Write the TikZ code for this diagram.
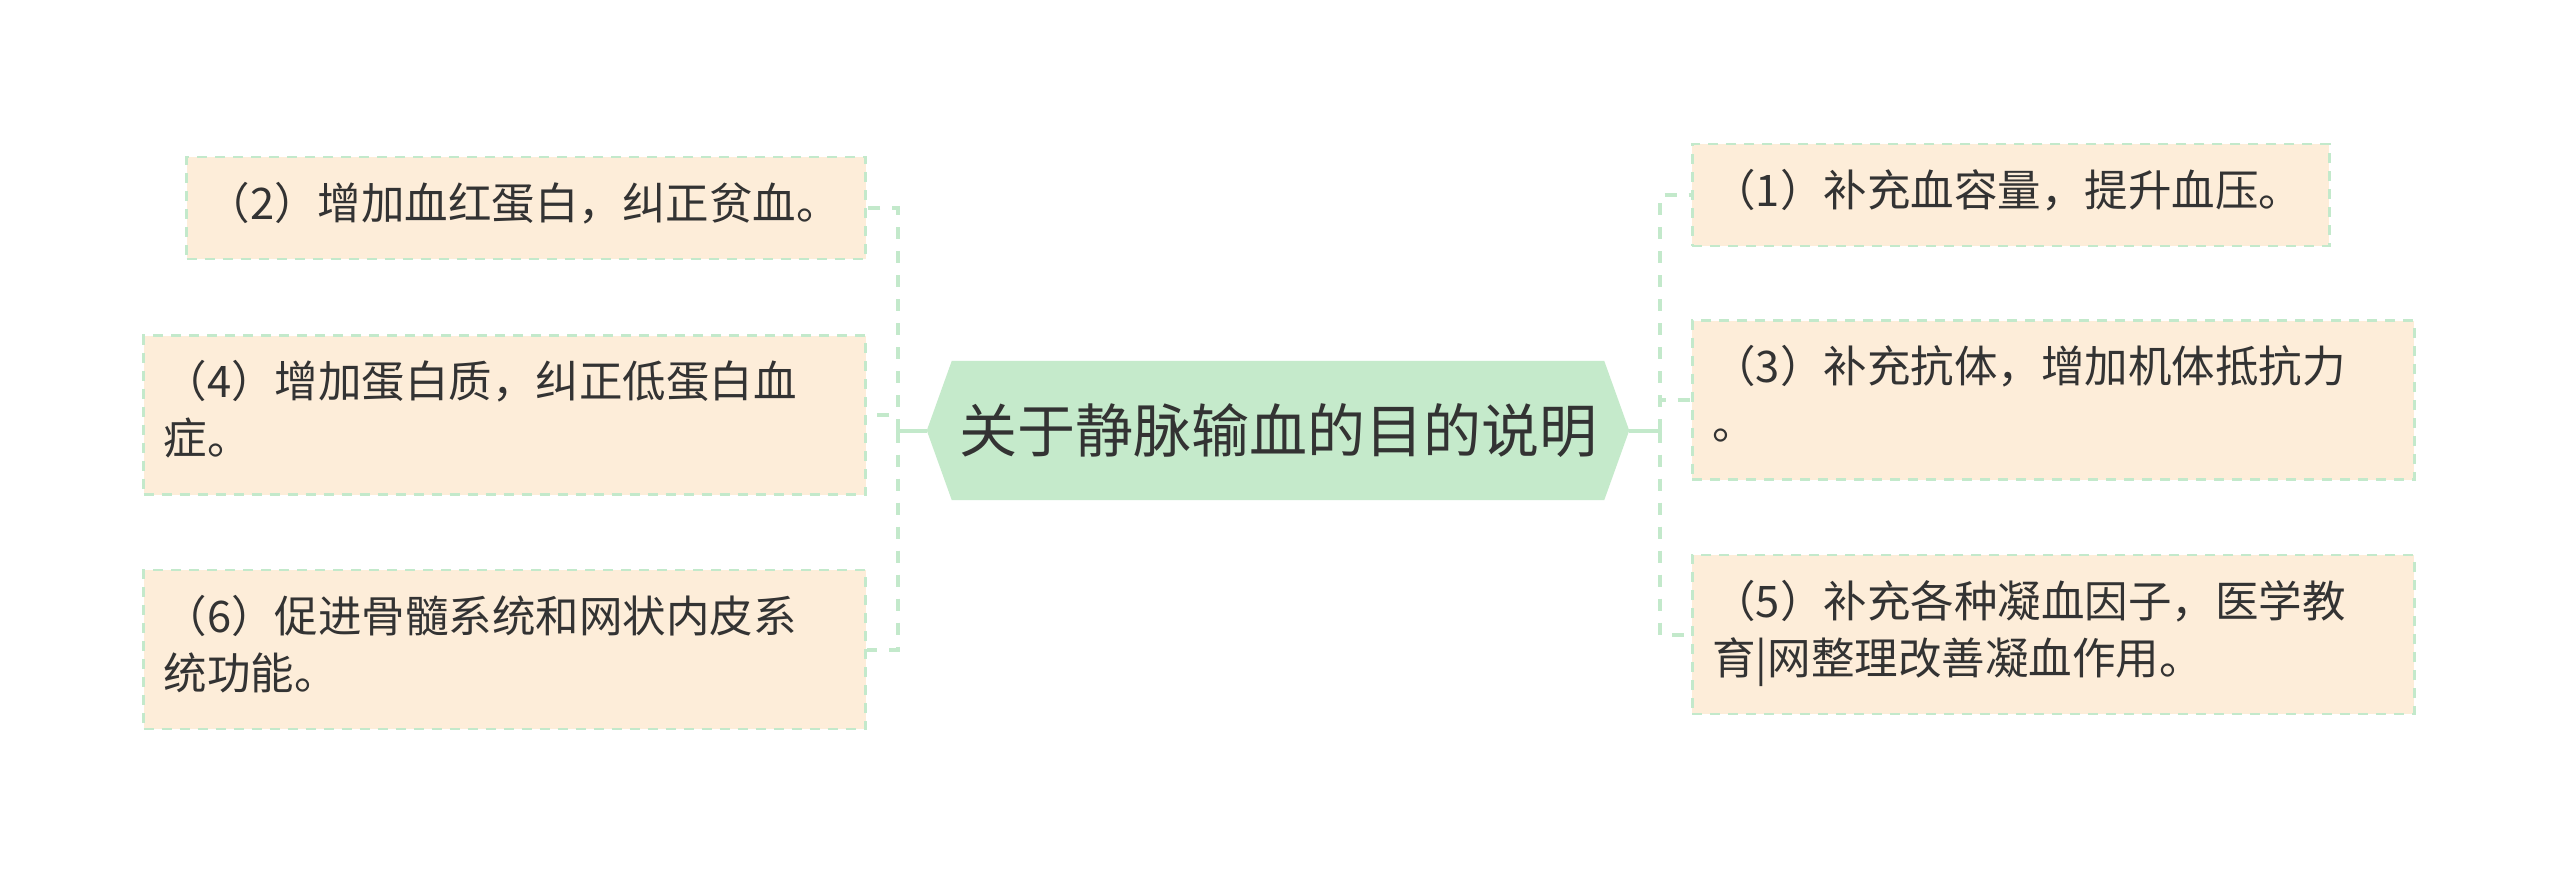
\documentclass[tikz,border=0pt]{standalone}
\usepackage{fontspec}
\setmainfont{Noto Sans CJK SC}
\usetikzlibrary{positioning,calc,backgrounds}
\definecolor{linegreen}{HTML}{C3E9CB}
\definecolor{hubgreen}{HTML}{C5EACB}
\definecolor{leafpeach}{HTML}{FDEDD9}
\definecolor{inkgray}{HTML}{333333}
\setlength{\parindent}{0pt}

\begin{document}
\begin{tikzpicture}[x=1pt, y=-1pt, node distance=60pt]
\tikzset{
  hub/.style={minimum width=702pt, minimum height=139pt, inner sep=0pt, text=inkgray, font=\fontsize{58}{70}\selectfont},
  leaf/.style={draw=linegreen, line width=2.5pt, dash pattern=on 10pt off 8pt, fill=leafpeach, text=inkgray, text width=#1, align=left, inner xsep=20pt, inner ysep=22.5pt, font=\fontsize{43.5}{57}\selectfont, execute at begin node=\strut, execute at end node=\strut},
  leaf/.default=682pt,
  stem/.style={draw=linegreen, line width=4pt},
  branch/.style={draw=linegreen, line width=4pt, dash pattern=on 12pt off 12pt}
}
\useasboundingbox (0,0) rectangle (2560,873);

\node[hub] (hub) at (1278,430.5) {关于静脉输血的目的说明};

% left side
\node[leaf, left=60pt of hub, yshift=15.5pt] (b4) {（4）增加蛋白质，纠正低蛋白血\\症。};
\node[leaf=639pt, above=74pt of b4.north east, anchor=south east] (b2) {（2）增加血红蛋白，纠正贫血。};
\node[leaf, below=73pt of b4] (b6) {（6）促进骨髓系统和网状内皮系\\统功能。};

% right side
\node[leaf, right=62pt of hub, yshift=30.5pt] (b3) {（3）补充抗体，增加机体抵抗力\\。};
\node[leaf=597pt, above=72pt of b3.north west, anchor=south west] (b1) {（1）补充血容量，提升血压。};
\node[leaf, below=73pt of b3] (b5) {（5）补充各种凝血因子，医学教\\育|网整理改善凝血作用。};

\begin{scope}[on background layer]
\fill[white] (0,0) rectangle (2560,873);
\fill[hubgreen] (hub.west) -- ([xshift=25pt]hub.north west) -- ([xshift=-25pt]hub.north east)
  -- (hub.east) -- ([xshift=-25pt]hub.south east) -- ([xshift=25pt]hub.south west) -- cycle;
\end{scope}

\coordinate (lj) at ($(hub.west)+(-29,0)$);
\coordinate (rj) at ($(hub.east)+(31,0)$);
\draw[stem] (hub.west) -- (lj);
\draw[stem] (hub.east) -- (rj);
\draw[branch] (lj) |- (b2.east);
\draw[branch] (lj) |- (b4.east);
\draw[branch] (lj) |- (b6.east);
\draw[branch] (rj) |- (b1.west);
\draw[branch] (rj) |- (b3.west);
\draw[branch] (rj) |- (b5.west);
\end{tikzpicture}
\end{document}
